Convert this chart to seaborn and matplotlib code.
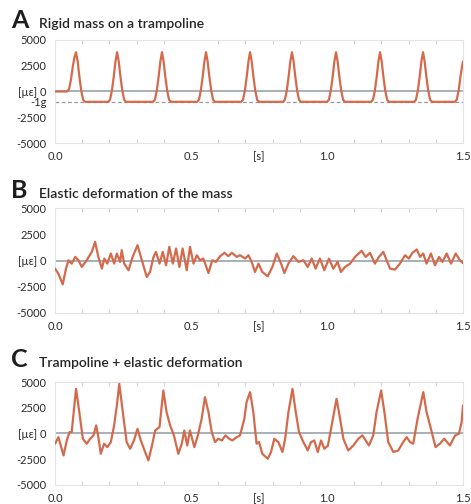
import matplotlib
matplotlib.use("Agg")
import matplotlib.pyplot as plt
import seaborn as sns
import numpy as np

# ---- panel A: rigid mass on a trampoline (strain, [µε]) ----
a_time = [0.000, 0.044, 0.051, 0.058, 0.065, 0.071, 0.077, 0.083, 0.089, 0.096, 0.103, 0.110,
          0.195, 0.202, 0.209, 0.216, 0.222, 0.228, 0.234, 0.240, 0.247, 0.254, 0.261,
          0.360, 0.367, 0.374, 0.381, 0.387, 0.393, 0.399, 0.405, 0.412, 0.419, 0.426,
          0.522, 0.529, 0.536, 0.543, 0.549, 0.555, 0.561, 0.567, 0.574, 0.581, 0.588,
          0.684, 0.691, 0.698, 0.705, 0.711, 0.717, 0.723, 0.729, 0.736, 0.743, 0.750,
          0.838, 0.845, 0.852, 0.859, 0.865, 0.871, 0.877, 0.883, 0.890, 0.897, 0.904,
          1.000, 1.007, 1.014, 1.021, 1.027, 1.033, 1.039, 1.045, 1.052, 1.059, 1.066,
          1.162, 1.169, 1.176, 1.183, 1.189, 1.195, 1.201, 1.207, 1.214, 1.221, 1.228,
          1.320, 1.327, 1.334, 1.341, 1.347, 1.353, 1.359, 1.365, 1.372, 1.379, 1.386,
          1.470, 1.477, 1.484, 1.491, 1.497, 1.500]
a_value = [0, 0, 200, 1100, 2400, 3300, 3800, 2900, 1500, 100, -800, -1000,
           -1000, -800, 100, 1500, 2900, 3800, 2900, 1500, 100, -800, -1000,
           -1000, -800, 100, 1500, 2900, 3800, 2900, 1500, 100, -800, -1000,
           -1000, -800, 100, 1500, 2900, 3800, 2900, 1500, 100, -800, -1000,
           -1000, -800, 100, 1500, 2900, 3800, 2900, 1500, 100, -800, -1000,
           -1000, -800, 100, 1500, 2900, 3800, 2900, 1500, 100, -800, -1000,
           -1000, -800, 100, 1500, 2900, 3800, 2900, 1500, 100, -800, -1000,
           -1000, -800, 100, 1500, 2900, 3800, 2900, 1500, 100, -800, -1000,
           -1000, -800, 100, 1500, 2900, 3800, 2900, 1500, 100, -800, -1000,
           -1000, -800, 100, 1500, 2500, 2900]

# ---- panel B: elastic deformation of the mass ----
b_time = [0.000, 0.012, 0.028, 0.040, 0.049, 0.061, 0.074, 0.086, 0.098, 0.116, 0.135, 0.147,
          0.159, 0.172, 0.181, 0.192, 0.205, 0.217, 0.227, 0.239, 0.245, 0.254, 0.270, 0.285,
          0.303, 0.319, 0.337, 0.349, 0.362, 0.371, 0.384, 0.396, 0.408, 0.420, 0.433, 0.445,
          0.457, 0.469, 0.484, 0.496, 0.509,
          0.521, 0.533, 0.545, 0.564, 0.578, 0.591, 0.607, 0.623, 0.637, 0.650, 0.668, 0.680,
          0.699, 0.711, 0.723, 0.735, 0.748, 0.762, 0.782, 0.799, 0.815, 0.831, 0.843, 0.858,
          0.876, 0.895, 0.913, 0.929, 0.944, 0.958, 0.974, 0.990,
          1.007, 1.023, 1.039, 1.051, 1.066, 1.085, 1.103, 1.127, 1.142, 1.158, 1.176, 1.191,
          1.207, 1.219, 1.232, 1.250, 1.268, 1.287, 1.301, 1.314, 1.330, 1.342, 1.354, 1.366,
          1.382, 1.397, 1.412, 1.424, 1.440, 1.456, 1.473, 1.489, 1.500]
b_value = [-770, -1250, -2270, -770, 30, -290, 350, 30, -610, 30, 830, 1790,
           350, -770, 190, -290, 670, -290, 670, -130, 990, -290, -930, 350,
           1470, 30, -1570, -1090, 350, 830, -290, 830, -450, 1310, -290, 1150,
           -610, 1150, -930, 1310, -290,
           510, 30, 190, -1190, 30, -130, 420, 740, 420, 740, 350, 510,
           190, 510, -130, -1090, -290, -1090, -1500, -610, 670, -290, -1190, -290,
           420, -130, 30, -610, 190, -770, 190, -930,
           190, -770, -130, -1090, -610, -290, 350, 930, 350, 740, -290, 350,
           830, 30, -770, -860, -290, 510, 190, 740, 1060, 350, 670, -290,
           670, -450, 350, -130, 670, -290, 670, 30, -250]

# ---- panel C: trampoline + elastic deformation ----
c_time = [0.000, 0.012, 0.031, 0.043, 0.053, 0.061, 0.077, 0.089, 0.102, 0.116, 0.129, 0.141,
          0.151, 0.159, 0.168, 0.180, 0.192, 0.205, 0.217, 0.227, 0.236, 0.249, 0.263, 0.276,
          0.290, 0.303, 0.315, 0.331, 0.343, 0.355, 0.368, 0.384, 0.398, 0.410, 0.423, 0.437,
          0.453, 0.466, 0.475, 0.486, 0.496,
          0.512, 0.525, 0.539, 0.551, 0.564, 0.576, 0.588, 0.600, 0.613, 0.627, 0.640, 0.652,
          0.668, 0.680, 0.696, 0.704, 0.717, 0.729, 0.741, 0.750, 0.762, 0.782, 0.794, 0.806,
          0.821, 0.836, 0.846, 0.858, 0.873, 0.885, 0.897, 0.913, 0.929, 0.941, 0.953, 0.966,
          0.978, 0.990, 1.003,
          1.017, 1.035, 1.048, 1.060, 1.078, 1.097, 1.115, 1.130, 1.142, 1.154, 1.170, 1.182,
          1.199, 1.211, 1.225, 1.244, 1.262, 1.280, 1.293, 1.305, 1.317, 1.333, 1.354, 1.366,
          1.382, 1.399, 1.415, 1.431, 1.452, 1.471, 1.485, 1.495, 1.500]
c_value = [-1000, -360, -2140, -680, 130, 130, 4340, 2070, -520, -1000, -520, -190,
           780, -360, -1980, -1000, -1330, -840, 780, 2720, 4830, 2070, -840, -1490,
           -680, 450, -680, -1810, -2620, -1330, 290, 620, 4180, 2070, 780, -190,
           -1980, -1000, 290, -1170, 290,
           -1330, -190, 1430, 3530, 2070, 130, -840, -520, -680, -190, -520, -680,
           -360, -190, 1430, 3050, 4020, 2070, -1000, -840, -1980, -2460, -1810, -520,
           -840, -1810, -520, 2070, 4340, 2070, 130, -840, -1650, -840, -680, -1810,
           -680, -1490, -1200,
           780, 3370, 1430, -520, -1650, -1170, -520, -190, -680, -1170, -190, 2070,
           4180, 2070, -840, -1810, -1650, -840, -360, -840, -1000, 1430, 4020, 2070,
           450, -1330, -1000, -520, -1170, -190, -30, 1100, 2720]

panel_letters = ["A", "B", "C"]
panel_titles = ["Rigid mass on a trampoline",
                "Elastic deformation of the mass",
                "Trampoline + elastic deformation"]
y_ticks = [5000, 2500, 0, -2500, -5000]
y_labels = ["5000", "2500", "[µε] 0", "-2500", "-5000"]
x_ticks = [0.0, 0.5, 0.75, 1.0, 1.5]
x_labels = ["0.0", "0.5", "[s]", "1.0", "1.5"]
one_g = -1000

sns.set_style("white")
plt.rcParams["font.family"] = ["Lato", "DejaVu Sans"]

LINE = "#d46a4c"
fig = plt.figure(figsize=(4.71, 5.04), dpi=100)

# axes boxes in figure fractions: left, bottom, width, height
boxes = [(0.117, 0.716, 0.866, 0.205),
         (0.117, 0.379, 0.866, 0.208),
         (0.117, 0.038, 0.866, 0.204)]
title_y = [0.944, 0.607, 0.272]
series = [(a_time, a_value), (b_time, b_value), (c_time, c_value)]

for i, (box, (t, v)) in enumerate(zip(boxes, series)):
    ax = fig.add_axes(box)
    ax.axhline(0, color="#9aa3ab", lw=1.2, zorder=1)
    if i == 0:
        ax.axhline(one_g, color="#9a9a9a", lw=0.9, ls=(0, (3, 2)), zorder=1)
    sns.lineplot(x=t, y=v, ax=ax, color=LINE, linewidth=1.6, estimator=None,
                 sort=False, zorder=3)
    ax.set_xlim(0, 1.5)
    ax.set_ylim(-5000, 5000)

    ticks = list(y_ticks)
    labels = list(y_labels)
    if i == 0:
        ticks.insert(3, one_g)
        labels.insert(3, "-1g")
    ax.set_yticks(ticks)
    ax.set_yticklabels(labels)
    ax.set_xticks(x_ticks)
    ax.set_xticklabels(x_labels)
    ax.set_xticks(np.arange(0, 1.51, 0.1), minor=True)
    ax.tick_params(axis="both", which="major", length=0, labelsize=8,
                   labelcolor="#2a2a2a", pad=6)
    ax.tick_params(axis="x", which="minor", direction="in", length=3,
                   color="#cfcfcf", top=True, bottom=True)
    for s in ax.spines.values():
        s.set_color("#e4e4e4")
        s.set_linewidth(0.8)
    ax.grid(False)

    fig.text(0.024, title_y[i], panel_letters[i], fontsize=18, fontweight="bold",
             color="#1e1e1e", va="baseline", ha="left")
    fig.text(0.083, title_y[i], panel_titles[i], fontsize=10, fontweight="semibold",
             color="#262626", va="baseline", ha="left")

fig.savefig("out.png", dpi=100)
